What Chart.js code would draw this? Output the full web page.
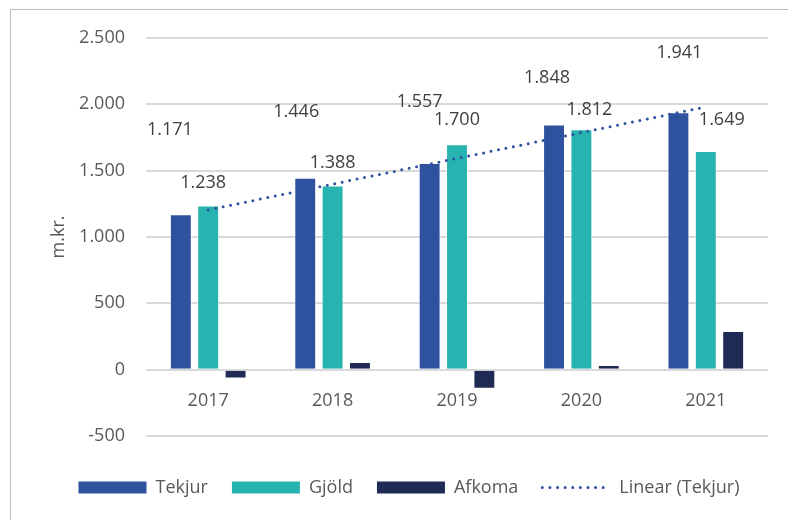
<!DOCTYPE html>
<html>
<head>
<meta charset="utf-8">
<script src="https://cdn.jsdelivr.net/npm/chart.js@4"></script>
<style>
  html, body { margin: 0; padding: 0; background: #fff; overflow: hidden; }
  #wrap { position: relative; width: 788px; height: 520px; }
  #frame { position: absolute; left: 10px; top: 9px; width: 900px; height: 600px;
           border-left: 1px solid #bdbdbd; border-top: 1px solid #bdbdbd; }
  canvas { position: absolute; left: 0; top: 0; }
</style>
</head>
<body>
<div id="wrap">
  <div id="frame"></div>
  <canvas id="chart" width="788" height="520"></canvas>
</div>
<script>
// --- DATA ---
const years = ['2017', '2018', '2019', '2020', '2021'];
const tekjur = [1171, 1446, 1557, 1848, 1941];
const gjold = [1238, 1388, 1700, 1812, 1649];
const afkoma = [-67, 58, -143, 36, 292];
const yTicks = [-500, 0, 500, 1000, 1500, 2000, 2500];

// --- COLOURS ---
const cTekjur = '#2e529e';
const cGjold = '#27b3b0';
const cAfkoma = '#1f2a55';
const cTrend = '#2e52a0';

const FONT = "'Open Sans', sans-serif";

// icelandic style thousands separator
const fmt = (v) => {
    const s = Math.abs(v).toString().replace(/\B(?=(\d{3})+(?!\d))/g, '.');
    return (v < 0 ? '-' : '') + s;
};

// least squares trend of Tekjur (Excel "Linear" trendline)
function linearTrend(vals) {
    const n = vals.length;
    const mx = (n + 1) / 2;
    const my = vals.reduce((a, b) => a + b, 0) / n;
    let sxy = 0, sxx = 0;
    vals.forEach((v, i) => { sxy += (i + 1 - mx) * (v - my); sxx += (i + 1 - mx) ** 2; });
    const slope = sxy / sxx;
    return vals.map((v, i) => my + slope * (i + 1 - mx));
}

// label nudges (px) relative to top of bar, moved by hand in the original
const labelNudge = {
    0: [[-11, -84], [-9, -66], [-10, -61], [-7, -47], [1, -59]],
    1: [[-5, -23], [0, -23], [0, -24], [8, -19], [16, -31]]
};

const valueLabels = {
    id: 'valueLabels',
    afterDatasetsDraw(chart) {
        const ctx = chart.ctx;
        ctx.save();
        ctx.font = '18px ' + FONT;
        ctx.fillStyle = '#404040';
        ctx.textAlign = 'center';
        ctx.textBaseline = 'middle';
        [0, 1].forEach(di => {
            const meta = chart.getDatasetMeta(di);
            meta.data.forEach((bar, i) => {
                const v = chart.data.datasets[di].data[i];
                const [dx, dy] = labelNudge[di][i];
                ctx.fillText(fmt(v), bar.x + dx, bar.y + dy);
            });
        });
        ctx.restore();
    }
};

new Chart(document.getElementById('chart'), {
    type: 'bar',
    data: {
        labels: years,
        datasets: [
            { label: 'Tekjur', data: tekjur, backgroundColor: cTekjur, borderColor: 'rgba(255,255,255,0.5)', borderWidth: 1 },
            { label: 'Gjöld', data: gjold, backgroundColor: cGjold, borderColor: 'rgba(255,255,255,0.5)', borderWidth: 1 },
            { label: 'Afkoma', data: afkoma, backgroundColor: cAfkoma, borderColor: 'rgba(255,255,255,0.5)', borderWidth: 1 },
            {
                type: 'line',
                label: 'Linear (Tekjur)',
                data: linearTrend(tekjur),
                borderColor: cTrend,
                borderWidth: 3,
                borderDash: [0, 7.6],
                borderCapStyle: 'round',
                pointRadius: 0,
                fill: false,
                order: -1
            }
        ]
    },
    options: {
        responsive: false,
        animation: false,
        events: [],
        datasets: {
            bar: { categoryPercentage: 0.66, barPercentage: 0.8 }
        },
        layout: { padding: { left: 50, right: 20, top: 38, bottom: 13.5 } },
        scales: {
            x: {
                position: { y: 0 },
                grid: { display: false },
                border: { display: false },
                ticks: { color: '#595959', font: { family: FONT, size: 18 }, padding: 12 }
            },
            y: {
                min: -500,
                max: 2500,
                afterBuildTicks: (scale) => { scale.ticks = yTicks.map(v => ({ value: v })); },
                afterFit: (scale) => { scale.width = 96; },
                grid: { color: '#d9d9d9', lineWidth: 2, drawTicks: false },
                border: { display: false },
                ticks: {
                    color: '#595959',
                    font: { family: FONT, size: 18 },
                    padding: 21,
                    callback: (v) => fmt(v)
                },
                title: {
                    display: true,
                    text: 'm.kr.',
                    color: '#595959',
                    font: { family: FONT, size: 18, lineHeight: 1 },
                    padding: { top: 0, bottom: 0 }
                }
            }
        },
        plugins: {
            tooltip: { enabled: false },
            legend: {
                position: 'bottom',
                title: { display: true, text: '', font: { size: 10, lineHeight: 1 }, padding: { top: 8.5, bottom: 0 } },
                labels: {
                    color: '#595959',
                    font: { family: FONT, size: 18 },
                    usePointStyle: true,
                    pointStyleWidth: 68,
                    boxHeight: 12,
                    padding: 24,
                    generateLabels: (chart) => chart.data.datasets.map((ds, i) => {
                        const isLine = ds.type === 'line';
                        return {
                            text: ds.label,
                            datasetIndex: i,
                            fillStyle: isLine ? 'rgba(0,0,0,0)' : ds.backgroundColor,
                            strokeStyle: isLine ? ds.borderColor : 'rgba(0,0,0,0)',
                            lineWidth: isLine ? 3 : 0,
                            lineDash: isLine ? [0, 7.6] : [],
                            lineCap: 'round',
                            pointStyle: isLine ? 'line' : 'rect',
                            fontColor: '#595959',
                            hidden: false
                        };
                    })
                }
            }
        }
    },
    plugins: [valueLabels]
});
</script>
</body>
</html>
